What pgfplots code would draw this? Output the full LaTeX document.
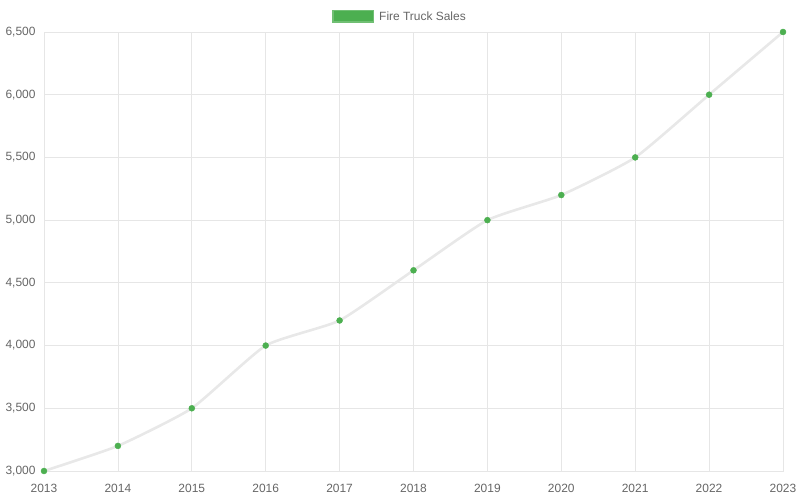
\documentclass[border=0pt]{standalone}
\usepackage{fontspec}
\setmainfont{Liberation Sans}
\usepackage{pgfplots}
\pgfplotsset{compat=1.18}
\definecolor{ptgreen}{HTML}{4CAF50}
\definecolor{linegray}{HTML}{E8E8E8}
\definecolor{gridgray}{HTML}{E6E6E6}
\definecolor{labgray}{HTML}{666666}
\begin{document}
\begin{tikzpicture}[x=1bp,y=1bp]
\path[use as bounding box] (0,0) rectangle (800,500);
\begin{axis}[
    at={(44bp,29bp)}, anchor=south west,
    scale only axis,
    width=739bp, height=439bp,
    xmin=2013, xmax=2023, ymin=3000, ymax=6500,
    xtick={2013,...,2023},
    ytick={3000,3500,...,6500},
    x tick label style={/pgf/number format/1000 sep={}, yshift=-10bp},
    y tick label style={/pgf/number format/1000 sep={,}, xshift=-5bp},
    /pgf/number format/assume math mode=true,
    tick label style={font=\fontsize{12}{14}\selectfont, text=labgray},
    major tick length=0pt,
    grid=major,
    major grid style={gridgray, line width=0.75bp},
    axis line style={gridgray, line width=0.75bp},
    clip=false,
  ]
  \addplot[linegray, line width=2.6bp, smooth, tension=0.3,
    mark=*, mark size=3bp,
    mark options={solid, fill=ptgreen, draw=ptgreen, line width=0.4bp}]
  coordinates {
    (2013,3000) (2014,3200) (2015,3500) (2016,4000) (2017,4200)
    (2018,4600) (2019,5000) (2020,5200) (2021,5500) (2022,6000)
    (2023,6500)
  };
\end{axis}
% legend
\fill[ptgreen!80!white] (332,477) rectangle (374,490);
\fill[ptgreen] (333.5,478.5) rectangle (372.5,488.5);
\node[anchor=west, inner sep=0pt, text=labgray, font=\fontsize{12}{14}\selectfont] at (379,484) {Fire Truck Sales};
\end{tikzpicture}
\end{document}
